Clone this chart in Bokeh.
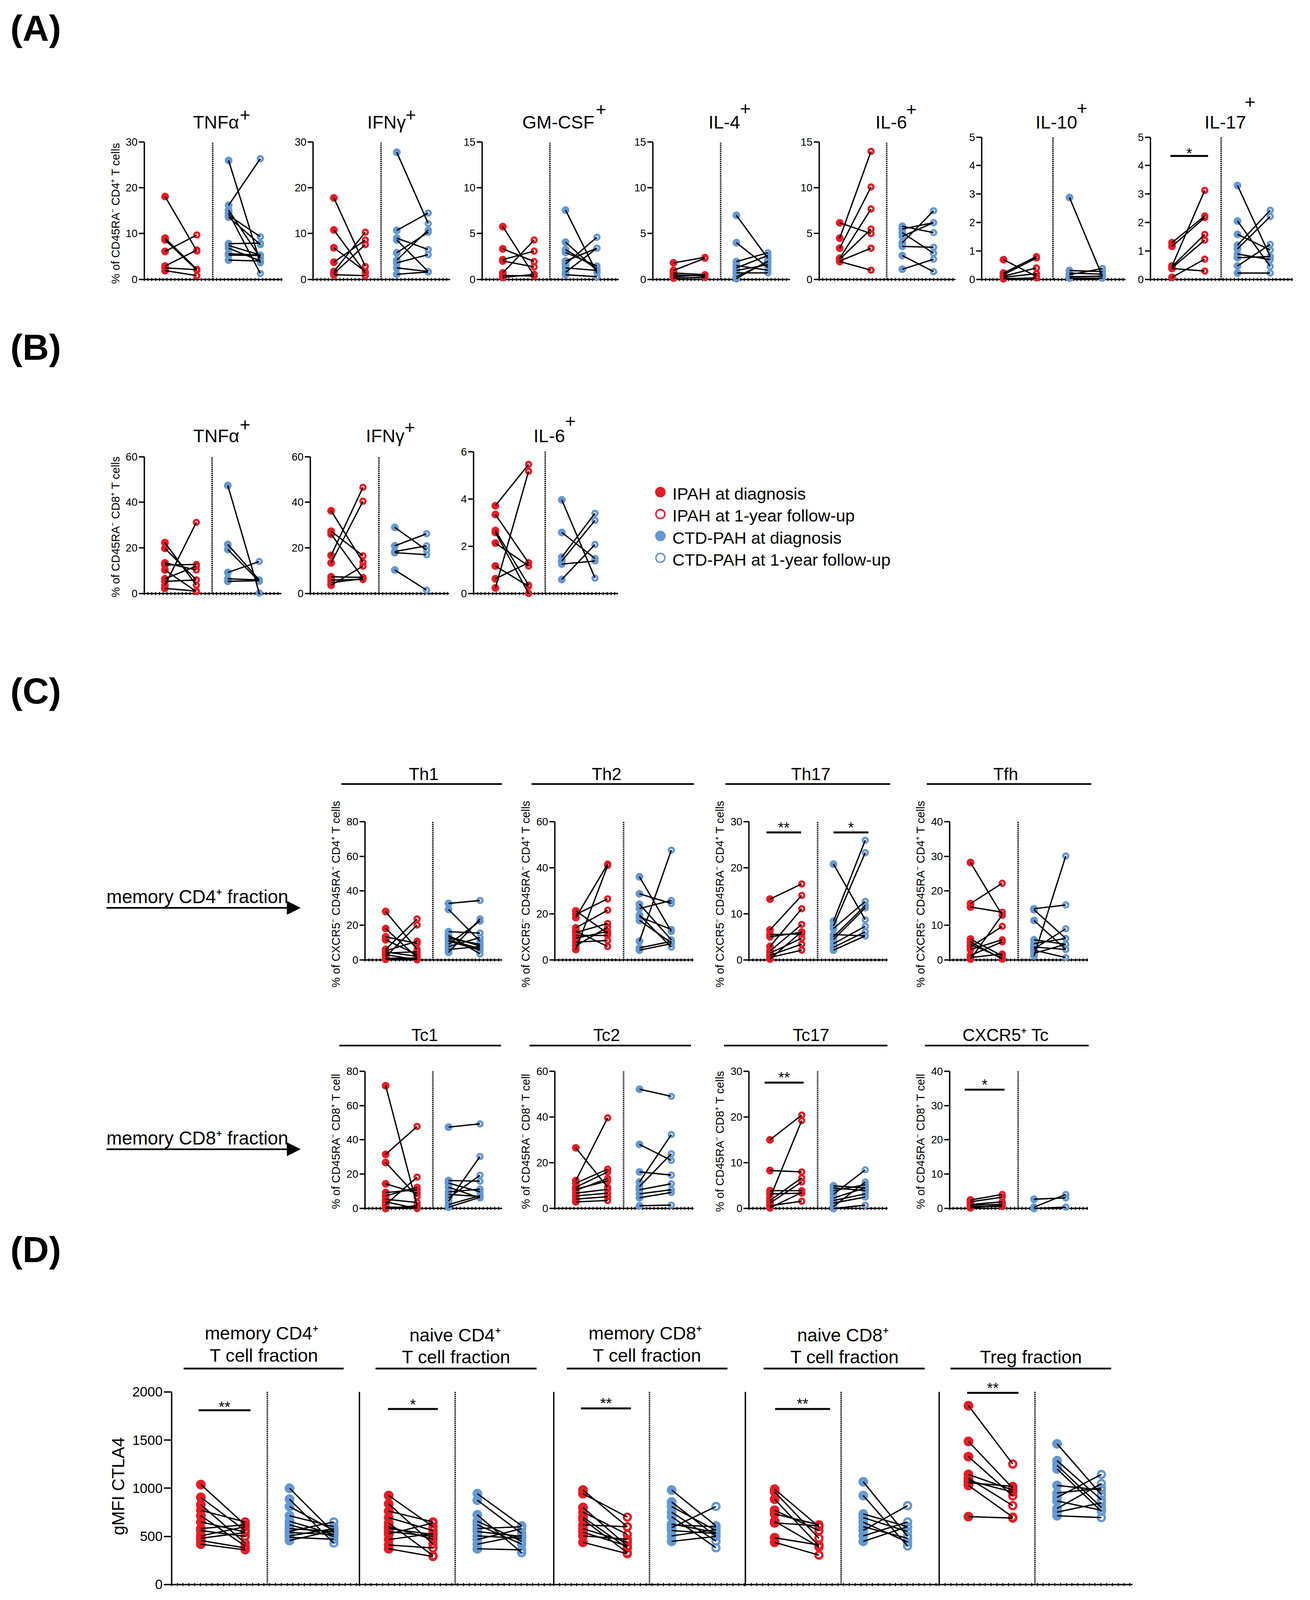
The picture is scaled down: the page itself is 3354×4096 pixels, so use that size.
import math
from bokeh.plotting import figure
from bokeh.models import Range1d, LinearAxis, FixedTicker, Arrow, NormalHead, CustomJSTickFormatter
from bokeh.core.properties import value
from bokeh.embed import file_html
from bokeh.resources import INLINE

# ------------------------------------------------------------------
# DATA  (pairs: (at diagnosis, at 1-year follow-up))
# ------------------------------------------------------------------
A_TNF_IPAH = [(18.1, 6.2), (9.0, 2.2), (8.6, 2.0), (6.1, 9.7), (2.9, 6.4), (2.5, 2.1), (1.9, 0.8)]
A_TNF_CTD = [(26.0, 3.6), (16.2, 26.4), (15.1, 4.7), (14.0, 9.3), (13.6, 7.6), (14.5, 1.25),
             (7.8, 7.9), (7.4, 5.3), (6.8, 4.0), (5.6, 5.3), (5.3, 5.2), (4.2, 4.0)]
A_IFN_IPAH = [(17.8, 2.8), (10.8, 1.4), (6.9, 1.7), (3.75, 8.6), (1.7, 10.3), (1.25, 7.6), (1.0, 0.8)]
A_IFN_CTD = [(27.8, 12.2), (10.7, 14.5), (9.0, 6.5), (8.6, 1.7), (5.8, 10.3), (4.2, 10.8),
             (3.6, 5.4), (2.5, 1.7), (1.1, 1.6)]
A_GM_IPAH = [(5.76, 0.4), (3.33, 1.94), (2.15, 3.08), (2.0, 1.35), (0.7, 4.3), (0.42, 0.35), (0.2, 0.55)]
A_GM_CTD = [(7.57, 0.7), (4.06, 0.97), (3.26, 1.18), (2.94, 1.46), (2.0, 3.4), (1.67, 4.6),
            (1.25, 0.97), (0.76, 3.4), (0.5, 0.28)]
A_IL4_IPAH = [(1.8, 2.4), (0.97, 2.3), (0.7, 0.5), (0.5, 0.35), (0.28, 0.5), (0.14, 0.2)]
A_IL4_CTD = [(7.0, 2.3), (4.0, 1.3), (1.94, 2.9), (1.5, 1.0), (1.25, 2.6), (0.97, 1.6),
             (0.7, 0.7), (0.28, 1.9), (0.07, 2.0)]
A_IL6_IPAH = [(6.18, 5.0), (4.5, 14.0), (3.4, 10.1), (2.3, 7.7), (2.2, 5.5), (2.0, 3.4), (1.94, 1.0)]
A_IL6_CTD = [(5.8, 5.1), (5.5, 6.2), (5.1, 2.85), (4.7, 6.2), (4.0, 7.5), (3.6, 3.5), (2.6, 0.83), (1.1, 2.2)]
A_IL10_IPAH = [(0.69, 0.1), (0.22, 0.8), (0.16, 0.75), (0.11, 0.4), (0.07, 0.2), (0.02, 0.05)]
A_IL10_CTD = [(2.88, 0.1), (0.31, 0.27), (0.22, 0.18), (0.16, 0.38), (0.09, 0.11), (0.04, 0.04)]
A_IL17_IPAH = [(1.29, 2.23), (1.16, 2.17), (0.47, 3.13), (0.45, 1.58), (0.4, 1.38), (0.38, 0.29), (0.07, 0.71)]
A_IL17_CTD = [(3.3, 0.8), (2.05, 0.45), (1.58, 1.03), (1.2, 2.43), (1.07, 2.21), (0.89, 0.69),
              (0.76, 0.8), (0.47, 1.23), (0.22, 0.22)]

B_TNF_IPAH = [(22.3, 3.6), (19.8, 5.9), (13.4, 10.3), (12.5, 12.7), (10.3, 0.8), (6.4, 12.0),
              (5.3, 5.9), (3.6, 31.2), (2.2, 1.0)]
B_TNF_CTD = [(47.4, 0.2), (21.5, 5.9), (19.3, 5.3), (9.2, 14.0), (6.4, 5.9), (5.3, 5.6)]
B_IFN_IPAH = [(36.3, 13.7), (27.3, 16.5), (26.0, 6.7), (16.7, 46.6), (13.4, 40.5), (7.3, 7.0),
              (5.9, 6.1), (4.7, 6.5), (3.6, 12.0)]
B_IFN_CTD = [(29.0, 19.0), (20.9, 26.2), (18.4, 20.9), (17.9, 17.0), (10.3, 1.4)]
B_IL6_IPAH = [(3.71, 5.46), (3.34, 1.29), (2.66, 0.35), (2.58, 0.0), (2.13, 1.16), (1.16, 0.3),
              (0.62, 1.3), (0.23, 5.17)]
B_IL6_CTD = [(3.96, 0.65), (2.58, 1.48), (1.53, 3.39), (1.37, 3.09), (1.24, 1.37), (0.59, 2.07)]

C_TH1_IPAH = [(28.0, 6.0), (18.1, 1.3), (13.3, 9.5), (11.6, 3.0), (6.0, 23.7), (5.2, 10.8), (3.9, 4.7),
              (3.0, 0.0), (1.7, 20.2), (0.9, 1.0), (0.3, 0.5), (4.5, 2.0)]
C_TH1_CTD = [(32.7, 34.4), (29.2, 10.8), (16.3, 15.5), (14.2, 3.4), (12.5, 9.0), (10.8, 5.6),
             (9.0, 22.4), (7.7, 12.9), (6.0, 7.7), (4.3, 23.7), (11.5, 6.5), (13.5, 8.0)]
C_TH2_IPAH = [(21.3, 11.5), (19.7, 26.5), (18.4, 41.6), (13.9, 21.6), (11.9, 15.8), (10.6, 10.6),
              (9.4, 12.3), (7.7, 8.4), (6.1, 14.2), (4.5, 41.0), (12.5, 5.8)]
C_TH2_CTD = [(36.1, 12.3), (28.7, 24.5), (24.2, 8.7), (22.3, 25.8), (18.7, 13.2), (17.1, 7.4),
             (8.1, 47.7), (5.2, 8.0), (4.2, 7.0), (19.5, 5.5)]
C_TH17_IPAH = [(13.2, 16.5), (6.5, 14.0), (5.5, 5.6), (5.0, 6.0), (2.9, 11.1), (1.9, 7.7),
               (1.45, 4.7), (0.97, 3.4), (0.5, 2.1), (0.16, 6.1)]
C_TH17_CTD = [(20.8, 8.7), (8.4, 26.0), (7.4, 23.3), (6.8, 12.7), (5.0, 11.8), (4.4, 11.3),
              (3.5, 7.3), (2.7, 6.1), (2.1, 5.2), (5.5, 5.2)]
C_TFH_IPAH = [(28.2, 12.9), (16.3, 22.2), (15.3, 13.8), (6.0, 1.1), (5.2, 0.2), (3.7, 9.7), (3.0, 5.8),
              (1.3, 5.2), (0.65, 1.7), (0.2, 13.0), (4.5, 0.5)]
C_TFH_CTD = [(14.8, 15.9), (14.5, 6.2), (11.4, 3.0), (5.8, 4.5), (4.7, 6.2), (3.7, 3.0), (2.8, 0.65),
             (1.9, 4.5), (1.1, 30.1), (3.2, 9.0)]
C_TC1_IPAH = [(71.5, 1.6), (31.5, 47.8), (26.8, 7.0), (14.4, 8.9), (9.3, 10.9), (7.4, 12.4), (5.4, 3.5),
              (3.9, 0.0), (2.3, 18.3), (0.8, 0.5), (0.0, 1.6)]
C_TC1_CTD = [(47.4, 49.3), (16.3, 15.9), (14.8, 9.7), (12.4, 6.2), (9.7, 11.3), (8.2, 7.0), (6.2, 19.4),
             (4.3, 30.3), (2.3, 7.5), (0.8, 6.5)]
C_TC2_IPAH = [(26.5, 9.3), (12.2, 39.6), (11.1, 17.2), (9.3, 16.0), (7.9, 13.1), (6.7, 8.4), (5.5, 6.7),
              (4.1, 5.2), (2.9, 3.5), (8.5, 12.0)]
C_TC2_CTD = [(52.1, 49.0), (28.0, 21.0), (16.0, 14.6), (11.6, 32.3), (9.6, 23.9), (8.2, 10.8),
             (6.4, 8.2), (4.7, 7.0), (1.2, 1.5)]
C_TC17_IPAH = [(15.0, 20.4), (8.3, 8.0), (3.9, 3.9), (3.2, 3.35), (2.3, 19.2), (1.75, 6.7), (1.2, 5.8),
               (0.6, 1.6), (0.15, 3.5)]
C_TC17_CTD = [(4.95, 4.5), (4.5, 3.9), (3.9, 5.2), (3.1, 8.45), (2.3, 4.5), (1.75, 3.2), (1.2, 2.5),
              (0.44, 5.8), (0.0, 0.73)]
C_CXTC_IPAH = [(2.5, 4.1), (1.94, 3.3), (1.17, 1.94), (0.97, 1.2), (0.58, 0.6), (0.2, 1.0)]
C_CXTC_CTD = [(2.7, 3.1), (0.4, 4.1), (0.0, 0.4)]

D_MCD4_IPAH = [(1038, 620), (905, 560), (829, 430), (771, 650), (714, 400), (650, 545), (581, 620),
               (560, 500), (505, 600), (457, 380), (419, 360), (480, 540)]
D_MCD4_CTD = [(1000, 540), (886, 430), (810, 560), (714, 600), (657, 520), (581, 550), (552, 650),
              (505, 580), (457, 560), (540, 520), (620, 500), (490, 470)]
D_NCD4_IPAH = [(924, 600), (838, 420), (762, 650), (695, 560), (638, 300), (581, 520), (524, 640),
               (467, 530), (410, 380), (371, 290), (600, 470), (550, 500)]
D_NCD4_CTD = [(943, 610), (876, 530), (724, 330), (657, 450), (581, 600), (505, 480), (467, 580),
              (419, 510), (371, 360), (550, 500), (620, 420)]
D_MCD8_IPAH = [(981, 600), (943, 700), (800, 400), (752, 520), (676, 330), (619, 600), (543, 400),
               (505, 470), (438, 320), (580, 440), (700, 380)]
D_MCD8_CTD = [(981, 610), (857, 500), (810, 560), (752, 450), (705, 381), (629, 540), (590, 810),
              (505, 570), (448, 500), (560, 530), (620, 600)]
D_NCD8_IPAH = [(990, 600), (962, 480), (886, 400), (771, 560), (733, 620), (657, 390), (640, 610),
               (486, 410), (438, 305)]
D_NCD8_CTD = [(1067, 500), (924, 400), (733, 600), (695, 550), (648, 440), (562, 819), (505, 650),
              (448, 600), (600, 480)]
D_TREG_IPAH = [(1857, 1251), (1486, 1000), (1328, 920), (1143, 981), (1105, 819), (1057, 1019),
               (1029, 700), (705, 690), (1080, 960)]
D_TREG_CTD = [(1461, 933), (1286, 880), (1238, 800), (1029, 981), (905, 1143), (867, 771), (790, 1048),
              (752, 848), (714, 695), (1200, 760), (950, 1000)]

# significance annotations: (x from, x to, bar value, star value, label)
SIG_A_IL17 = [(0.95, 2.1, 4.34, 4.6, "*")]
SIG_TH17 = [(0.89, 1.98, 27.7, 29.8, "**"), (3.0, 4.1, 27.7, 29.8, "*")]
SIG_TC17 = [(0.83, 2.06, 27.5, 29.6, "**")]
SIG_CXTC = [(0.82, 2.07, 34.6, 37.5, "*")]
SIG_D_MCD4 = [(0.95, 2.12, 1810, 1895, "**")]
SIG_D_NCD4 = [(0.985, 2.11, 1823, 1920, "*")]
SIG_D_MCD8 = [(0.955, 2.08, 1829, 1930, "**")]
SIG_D_NCD8 = [(1.01, 2.25, 1823, 1928, "**")]
SIG_D_TREG = [(0.97, 2.13, 1990, 2090, "**")]

A_TITLES = ["TNFα", "IFNγ", "GM-CSF", "IL-4", "IL-6", "IL-10", "IL-17"]
B_TITLES = ["TNFα", "IFNγ", "IL-6"]
C_TOP_TITLES = ["Th1", "Th2", "Th17", "Tfh"]
C_BOT_TITLES = ["Tc1", "Tc2", "Tc17", "CXCR5⁺ Tc"]
D_TITLES = [("memory CD4⁺", "T cell fraction"), ("naive CD4⁺", "T cell fraction"),
            ("memory CD8⁺", "T cell fraction"), ("naive CD8⁺", "T cell fraction"), ("", "Treg fraction")]
LEGEND = ["IPAH at diagnosis", "IPAH at 1-year follow-up", "CTD-PAH at diagnosis", "CTD-PAH at 1-year follow-up"]
GROUP_X = [1, 2, 3, 4]      # IPAH dx, IPAH fu, CTD dx, CTD fu
DIVIDER_X = 2.5

# ------------------------------------------------------------------
# LAYOUT (reference pixel coordinates, scaled by S on output)
# ------------------------------------------------------------------
RED = "#E31E26"
BLUE = "#6698D0"
FONT = "Liberation Sans"
S = 0.85
W, H = 3338, 4080
OX = OY = 8 / S
RX1 = OX + W / S
RY1 = OY + H / S
BASE_FIX = 0.25   # em shift correcting the rendered alphabetic baseline

p = figure(width=W, height=H, x_range=Range1d(OX, RX1), y_range=Range1d(RY1, OY),
           x_axis_type=None, y_axis_type=None, toolbar_location=None,
           output_backend="svg", min_border=0)
p.outline_line_color = None
p.background_fill_color = "white"


def fpx(v):
    return "%.1fpx" % (v * S)


def text(xs, ys, texts, size, align="left", baseline="alphabetic", angle=0.0, bold=False):
    if baseline == "alphabetic":
        ys = [y - BASE_FIX * size for y in ys]
    p.text(x=xs, y=ys, text=texts, text_font=value(FONT), text_font_size=value(fpx(size)),
           text_align=align, text_baseline=baseline, angle=angle, text_color="black",
           text_font_style="bold" if bold else "normal")


def subplot(key, XL, XR, Y0, Ytop, vmax, ticks, ipah, ctd, unit=None, yaxis=True,
            tick_fs=32, tick_len=14, step=11.5, sig=None, big=False):
    if unit is None:
        unit = (XR - XL) / 4.36
    uL = 0.34
    uR = uL + (XR - XL) / unit
    p.extra_x_ranges[key] = Range1d(start=uL + (OX - XL) / unit, end=uL + (RX1 - XL) / unit)
    kv = vmax / (Y0 - Ytop)
    p.extra_y_ranges[key] = Range1d(start=(Y0 - RY1) * kv, end=(Y0 - OY) * kv)
    rn = dict(x_range_name=key, y_range_name=key)

    if yaxis:
        ax = LinearAxis(fixed_location=uL, bounds=(0, vmax),
                        ticker=FixedTicker(ticks=ticks, minor_ticks=[]),
                        axis_line_width=3.5, axis_line_color="black",
                        major_tick_in=0, major_tick_out=int(tick_len), major_tick_line_width=3.5,
                        minor_tick_in=0, minor_tick_out=0,
                        major_label_text_font=FONT, major_label_text_font_size=fpx(tick_fs),
                        major_label_text_color="black", major_label_standoff=3, level="underlay", **rn)
        p.add_layout(ax, "left")
    else:
        p.segment(x0=[uL], y0=[0], x1=[uL], y1=[vmax], line_color="black", line_width=3.5, **rn)

    bstep = step / unit
    n = int((uR - uL) / bstep) + 1
    bx = LinearAxis(fixed_location=0, bounds=(uL, uR),
                    ticker=FixedTicker(ticks=[uL + i * bstep for i in range(n)], minor_ticks=[]),
                    formatter=CustomJSTickFormatter(code="return ''"),
                    axis_line_width=3.5, axis_line_color="black",
                    major_tick_in=4, major_tick_out=4, major_tick_line_width=2.5,
                    minor_tick_in=0, minor_tick_out=0, major_label_text_font_size="1px",
                    level="underlay", **rn)
    p.add_layout(bx, "below")

    p.segment(x0=[DIVIDER_X], y0=[0], x1=[DIVIDER_X], y1=[vmax], line_color="black",
              line_width=4, line_dash="3 2", **rn)

    if big:
        fsz, osz, ow = 29 * S, 21 * S, 7 * S
    else:
        fsz, osz, ow = 23 * S, 15 * S, 7 * S
    for grp, xa, xb, col in ((ipah, GROUP_X[0], GROUP_X[1], RED), (ctd, GROUP_X[2], GROUP_X[3], BLUE)):
        d = [a for a, b in grp]
        f = [b for a, b in grp]
        m = len(grp)
        p.scatter([xa] * m, d, size=fsz, fill_color=col, line_color=col, line_width=0.5, **rn)
        p.scatter([xb] * m, f, size=osz, fill_color=None, line_color=col, line_width=ow, **rn)
    for grp, xa, xb in ((ipah, GROUP_X[0], GROUP_X[1]), (ctd, GROUP_X[2], GROUP_X[3])):
        d = [a for a, b in grp]
        f = [b for a, b in grp]
        m = len(grp)
        p.segment(x0=[xa] * m, y0=d, x1=[xb] * m, y1=f, line_color="black", line_width=3.4, **rn)

    if sig:
        for x0, x1, yb, ys, lab in sig:
            p.segment(x0=[x0], y0=[yb], x1=[x1], y1=[yb], line_color="black", line_width=5, **rn)
            p.text(x=[(x0 + x1) / 2], y=[ys - (25.6 - BASE_FIX * 45) * kv], text=[lab], text_font=value(FONT),
                   text_font_size=value(fpx(45)), text_align="center", text_baseline="alphabetic",
                   text_color="black", **rn)


# ---------------- Panel A ----------------
A_XL = [443, 952, 1461, 1975, 2476, 2966, 3474]
A_XR = [860, 1365, 1873, 2388, 2887, 3399, 3904]
A_TOP = [437, 437, 437, 437, 437, 422, 422]
A_MAX = [30, 30, 15, 15, 15, 5, 5]
A_TICKS = [[0, 10, 20, 30], [0, 10, 20, 30], [0, 5, 10, 15], [0, 5, 10, 15], [0, 5, 10, 15],
           [0, 1, 2, 3, 4, 5], [0, 1, 2, 3, 4, 5]]
A_DATA = [(A_TNF_IPAH, A_TNF_CTD), (A_IFN_IPAH, A_IFN_CTD), (A_GM_IPAH, A_GM_CTD), (A_IL4_IPAH, A_IL4_CTD),
          (A_IL6_IPAH, A_IL6_CTD), (A_IL10_IPAH, A_IL10_CTD), (A_IL17_IPAH, A_IL17_CTD)]
A_SIG = [None] * 6 + [SIG_A_IL17]
for i in range(7):
    subplot("a%d" % i, A_XL[i], A_XR[i], 850, A_TOP[i], A_MAX[i], A_TICKS[i], A_DATA[i][0], A_DATA[i][1],
            sig=A_SIG[i])
A_TX = [590, 1115, 1582, 2143, 2646, 3128, 3637]
A_PX = [731, 1230, 1803, 2238, 2738, 3252, 3758]
A_PB = [368, 368, 352, 350, 352, 348, 330]
text(A_TX, [391] * 7, A_TITLES, 55)
text(A_PX, A_PB, ["+"] * 7, 55)
text([356], [651], ["% of CD45RA⁻ CD4⁺ T cells"], 34.5, align="center", baseline="middle", angle=math.pi / 2)

# ---------------- Panel B ----------------
B_XL = [443, 943, 1435]
B_XR = [856, 1361, 1871]
B_TOP = [1384.6, 1384.6, 1369]
B_MAX = [60, 60, 6]
B_TICKS = [[0, 20, 40, 60], [0, 20, 40, 60], [0, 2, 4, 6]]
B_DATA = [(B_TNF_IPAH, B_TNF_CTD), (B_IFN_IPAH, B_IFN_CTD), (B_IL6_IPAH, B_IL6_CTD)]
for i in range(3):
    subplot("b%d" % i, B_XL[i], B_XR[i], 1796, B_TOP[i], B_MAX[i], B_TICKS[i], B_DATA[i][0], B_DATA[i][1])
text([591, 1111, 1616], [1335] * 3, B_TITLES, 55)
text([731, 1227, 1711], [1301, 1310, 1291], ["+"] * 3, 55)
text([356], [1595], ["% of CD45RA⁻ CD8⁺ T cells"], 34.5, align="center", baseline="middle", angle=math.pi / 2)

# legend
LEG_Y = [1491, 1557, 1623, 1689]
p.scatter([1998, 1998], [LEG_Y[0], LEG_Y[2]], size=31 * S, fill_color=[RED, BLUE], line_color=[RED, BLUE])
p.scatter([1998, 1998], [LEG_Y[1], LEG_Y[3]], size=27 * S, fill_color=None, line_color=[RED, BLUE],
          line_width=4.5 * S)
text([2034] * 4, [y + 18 for y in LEG_Y], LEGEND, 51)

# ---------------- Panel C ----------------
C_XL = [1108, 1680, 2265, 2869]
C_XR = [1521, 2098, 2682, 3286]
C_TOP_MAX = [80, 60, 30, 40]
C_BOT_MAX = [80, 60, 30, 40]
C_TICKS = {80: [0, 20, 40, 60, 80], 60: [0, 20, 40, 60], 30: [0, 10, 20, 30], 40: [0, 10, 20, 30, 40]}
C_TOP_DATA = [(C_TH1_IPAH, C_TH1_CTD), (C_TH2_IPAH, C_TH2_CTD), (C_TH17_IPAH, C_TH17_CTD),
              (C_TFH_IPAH, C_TFH_CTD)]
C_BOT_DATA = [(C_TC1_IPAH, C_TC1_CTD), (C_TC2_IPAH, C_TC2_CTD), (C_TC17_IPAH, C_TC17_CTD),
              (C_CXTC_IPAH, C_CXTC_CTD)]
C_TOP_SIG = [None, None, SIG_TH17, None]
C_BOT_SIG = [None, None, SIG_TC17, SIG_CXTC]
for i in range(4):
    subplot("ct%d" % i, C_XL[i], C_XR[i], 2899.5, 2484, C_TOP_MAX[i], C_TICKS[C_TOP_MAX[i]],
            C_TOP_DATA[i][0], C_TOP_DATA[i][1], sig=C_TOP_SIG[i])
    subplot("cb%d" % i, C_XL[i], C_XR[i], 3648.6, 3234.8, C_BOT_MAX[i], C_TICKS[C_BOT_MAX[i]],
            C_BOT_DATA[i][0], C_BOT_DATA[i][1], sig=C_BOT_SIG[i])
text([1285, 1836, 2451, 3038], [2352.7] * 4, C_TOP_TITLES, 52, align="center")
text([1288, 1836, 2452, 3038], [3139] * 4, C_BOT_TITLES, 52, align="center")
p.segment(x0=[1037, 1610, 2194, 2800], y0=[2370] * 4, x1=[1521, 2099, 2690, 3296], y1=[2370] * 4,
          line_color="black", line_width=5 * S)
p.segment(x0=[1031, 1604, 2190, 2795], y0=[3157.7] * 4, x1=[1518, 2090, 2682, 3288], y1=[3157.7] * 4,
          line_color="black", line_width=5 * S)
text([x - 88 for x in C_XL], [2701] * 4, ["% of CXCR5⁻ CD45RA⁻ CD4⁺ T cells"] * 4, 34.5,
     align="center", baseline="middle", angle=math.pi / 2)
text([x - 88 for x in C_XL], [3446] * 4,
     ["% of CD45RA⁻ CD8⁺ T cell", "% of CD45RA⁻ CD8⁺ T cell", "% of CD45RA⁻ CD8⁺ T cells",
      "% of CD45RA⁻ CD8⁺ T cell"], 34.5, align="center", baseline="middle", angle=math.pi / 2)
text([329.5, 329.5], [2723, 3450], ["memory CD4⁺ fraction", "memory CD8⁺ fraction"], 56)
for ya in (2743, 3470):
    p.add_layout(Arrow(x_start=329.5, y_start=ya, x_end=913.5, y_end=ya, line_width=5 * S,
                       line_color="black",
                       end=NormalHead(size=34, fill_color="black", line_color="black", line_width=1)))

# ---------------- Panel D ----------------
D_XL = [525.7, 1091.5, 1676.8, 2254, 2837.8]
D_XR = [1091.5, 1676.8, 2254, 2837.8, 3419.7]
D_DATA = [(D_MCD4_IPAH, D_MCD4_CTD), (D_NCD4_IPAH, D_NCD4_CTD), (D_MCD8_IPAH, D_MCD8_CTD),
          (D_NCD8_IPAH, D_NCD8_CTD), (D_TREG_IPAH, D_TREG_CTD)]
D_SIG = [SIG_D_MCD4, SIG_D_NCD4, SIG_D_MCD8, SIG_D_NCD8, SIG_D_TREG]
for i in range(5):
    subplot("d%d" % i, D_XL[i], D_XR[i], 4781, 4201, 2000, [0, 500, 1000, 1500, 2000],
            D_DATA[i][0], D_DATA[i][1], unit=133.5, yaxis=(i == 0), tick_fs=41, tick_len=20,
            step=17.4, sig=D_SIG[i], big=True)
D_CX1 = [797, 1380, 1953, 2548, 3114]
D_CX2 = [804, 1383, 1958, 2553, 3114]
text(D_CX1[:4], [4038, 4044, 4038, 4044], [t[0] for t in D_TITLES[:4]], 55, align="center")
text(D_CX2, [4105, 4110, 4105, 4110, 4110], [t[1] for t in D_TITLES], 55, align="center")
p.segment(x0=[562, 1140, 1716, 2309, 2872], y0=[4130.6] * 5, x1=[1044, 1625, 2200, 2794, 3356],
          y1=[4130.6] * 5, line_color="black", line_width=5.5 * S)
text([365], [4485], ["gMFI CTLA4"], 52, align="center", baseline="middle", angle=math.pi / 2)

# panel letters
text([40, 40, 40, 40], [121, 1082, 2117, 3799], ["(A)", "(B)", "(C)", "(D)"], 110, bold=True)

open("out.html", "w").write(file_html(p, INLINE))
